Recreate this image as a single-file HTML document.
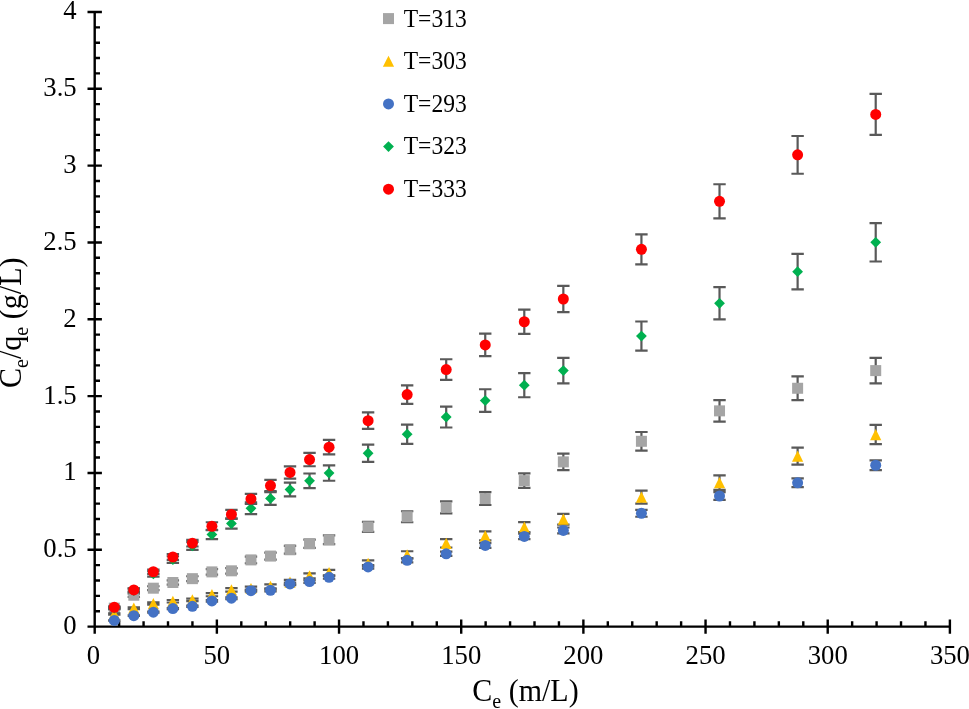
<!DOCTYPE html>
<html lang="en"><head><meta charset="utf-8"><title>Ce/qe vs Ce</title>
<style>
html,body{margin:0;padding:0;background:#fff;}
body{width:969px;height:709px;overflow:hidden;}
svg{display:block;font-family:"Liberation Serif","Times New Roman",serif;}
</style></head><body>
<svg width="969" height="709" viewBox="0 0 969 709">
<rect width="969" height="709" fill="#fff"/>
<path d="M94.7 10.76V633.8M87.5 626.6H951.09M87.5 626.6H101.9M94.7 611.23H100M94.7 595.87H100M94.7 580.5H100M94.7 565.14H100M87.5 549.77H101.9M94.7 534.4H100M94.7 519.04H100M94.7 503.67H100M94.7 488.31H100M87.5 472.94H101.9M94.7 457.57H100M94.7 442.21H100M94.7 426.84H100M94.7 411.48H100M87.5 396.11H101.9M94.7 380.74H100M94.7 365.38H100M94.7 350.01H100M94.7 334.65H100M87.5 319.28H101.9M94.7 303.91H100M94.7 288.55H100M94.7 273.18H100M94.7 257.82H100M87.5 242.45H101.9M94.7 227.08H100M94.7 211.72H100M94.7 196.35H100M94.7 180.99H100M87.5 165.62H101.9M94.7 150.25H100M94.7 134.89H100M94.7 119.52H100M94.7 104.16H100M87.5 88.79H101.9M94.7 73.42H100M94.7 58.06H100M94.7 42.69H100M94.7 27.33H100M87.5 11.96H101.9M94.7 619.4V633.8M119.13 621.3V626.6M143.57 621.3V626.6M168 621.3V626.6M192.44 621.3V626.6M216.87 619.4V633.8M241.3 621.3V626.6M265.74 621.3V626.6M290.17 621.3V626.6M314.61 621.3V626.6M339.04 619.4V633.8M363.47 621.3V626.6M387.91 621.3V626.6M412.34 621.3V626.6M436.78 621.3V626.6M461.21 619.4V633.8M485.64 621.3V626.6M510.08 621.3V626.6M534.51 621.3V626.6M558.95 621.3V626.6M583.38 619.4V633.8M607.81 621.3V626.6M632.25 621.3V626.6M656.68 621.3V626.6M681.12 621.3V626.6M705.55 619.4V633.8M729.98 621.3V626.6M754.42 621.3V626.6M778.85 621.3V626.6M803.29 621.3V626.6M827.72 619.4V633.8M852.15 621.3V626.6M876.59 621.3V626.6M901.02 621.3V626.6M925.46 621.3V626.6M949.89 619.4V633.8" stroke="#000" stroke-width="2.4" fill="none"/>
<g class="s"><path d="M114.3 607.24V609.08M108.1 607.24H120.5M108.1 609.08H120.5M133.83 593.69V596.82M127.63 593.69H140.03M127.63 596.82H140.03M153.35 586.26V590.11M147.15 586.26H159.55M147.15 590.11H159.55M172.87 580.29V584.7M166.67 580.29H179.07M166.67 584.7H179.07M192.4 576.26V581.06M186.2 576.26H198.6M186.2 581.06H198.6M211.92 569.16V574.63M205.72 569.16H218.12M205.72 574.63H218.12M231.44 568.03V573.61M225.24 568.03H237.64M225.24 573.61H237.64M250.97 556.58V563.25M244.77 556.58H257.17M244.77 563.25H257.17M270.49 552.54V559.6M264.29 552.54H276.69M264.29 559.6H276.69M290.01 545.93V553.61M283.81 545.93H296.21M283.81 553.61H296.21M309.54 539.64V547.92M303.34 539.64H315.74M303.34 547.92H315.74M329.06 535.44V544.12M322.86 535.44H335.26M322.86 544.12H335.26M368.1 521.89V531.86M361.9 521.89H374.3M361.9 531.86H374.3M407.15 511.24V522.23M400.95 511.24H413.35M400.95 522.23H413.35M446.2 501.4V513.32M440 501.4H452.4M440 513.32H452.4M485.24 492.2V505M479.04 492.2H491.44M479.04 505H491.44M524.29 473.32V487.92M518.09 473.32H530.49M518.09 487.92H530.49M563.34 453.64V470.11M557.14 453.64H569.54M557.14 470.11H569.54M641.43 432.02V450.55M635.23 432.02H647.63M635.23 450.55H647.63M719.52 400.07V421.65M713.32 400.07H725.72M713.32 421.65H725.72M797.62 376.36V400.19M791.42 376.36H803.82M791.42 400.19H803.82M875.71 357.8V383.4M869.51 357.8H881.91M869.51 383.4H881.91" stroke="#595959" stroke-width="2.2" fill="none"/><rect x="108.8" y="602.66" width="11" height="11" fill="#A5A5A5"/><rect x="128.33" y="589.75" width="11" height="11" fill="#A5A5A5"/><rect x="147.85" y="582.69" width="11" height="11" fill="#A5A5A5"/><rect x="167.37" y="577" width="11" height="11" fill="#A5A5A5"/><rect x="186.9" y="573.16" width="11" height="11" fill="#A5A5A5"/><rect x="206.42" y="566.4" width="11" height="11" fill="#A5A5A5"/><rect x="225.94" y="565.32" width="11" height="11" fill="#A5A5A5"/><rect x="245.47" y="554.41" width="11" height="11" fill="#A5A5A5"/><rect x="264.99" y="550.57" width="11" height="11" fill="#A5A5A5"/><rect x="284.51" y="544.27" width="11" height="11" fill="#A5A5A5"/><rect x="304.04" y="538.28" width="11" height="11" fill="#A5A5A5"/><rect x="323.56" y="534.28" width="11" height="11" fill="#A5A5A5"/><rect x="362.6" y="521.37" width="11" height="11" fill="#A5A5A5"/><rect x="401.65" y="511.23" width="11" height="11" fill="#A5A5A5"/><rect x="440.7" y="501.86" width="11" height="11" fill="#A5A5A5"/><rect x="479.74" y="493.1" width="11" height="11" fill="#A5A5A5"/><rect x="518.79" y="475.12" width="11" height="11" fill="#A5A5A5"/><rect x="557.84" y="456.38" width="11" height="11" fill="#A5A5A5"/><rect x="635.93" y="435.79" width="11" height="11" fill="#A5A5A5"/><rect x="714.02" y="405.36" width="11" height="11" fill="#A5A5A5"/><rect x="792.12" y="382.77" width="11" height="11" fill="#A5A5A5"/><rect x="870.21" y="365.1" width="11" height="11" fill="#A5A5A5"/></g>
<g class="s"><path d="M114.3 613.37V614.63M108.1 613.37H120.5M108.1 614.63H120.5M133.83 607.24V609.08M127.63 607.24H140.03M127.63 609.08H140.03M153.35 602.4V604.7M147.15 602.4H159.55M147.15 604.7H159.55M172.87 599.98V602.51M166.67 599.98H179.07M166.67 602.51H179.07M192.4 598.53V601.2M186.2 598.53H198.6M186.2 601.2H198.6M211.92 593.04V596.24M205.72 593.04H218.12M205.72 596.24H218.12M231.44 588.04V591.71M225.24 588.04H237.64M225.24 591.71H237.64M250.97 586.59V590.4M244.77 586.59H257.17M244.77 590.4H257.17M270.49 584.33V588.35M264.29 584.33H276.69M264.29 588.35H276.69M290.01 579.97V584.41M283.81 579.97H296.21M283.81 584.41H296.21M309.54 573.36V578.43M303.34 573.36H315.74M303.34 578.43H315.74M329.06 569.97V575.36M322.86 569.97H335.26M322.86 575.36H335.26M368.1 560.29V566.6M361.9 560.29H374.3M361.9 566.6H374.3M407.15 551.25V558.43M400.95 551.25H413.35M400.95 558.43H413.35M446.2 539.15V547.48M440 539.15H452.4M440 547.48H452.4M485.24 531.41V540.47M479.04 531.41H491.44M479.04 540.47H491.44M524.29 522.05V532.01M518.09 522.05H530.49M518.09 532.01H530.49M563.34 513.82V524.56M557.14 513.82H569.54M557.14 524.56H569.54M641.43 490.59V503.54M635.23 490.59H647.63M635.23 503.54H647.63M719.52 475.42V489.82M713.32 475.42H725.72M713.32 489.82H725.72M797.62 447.67V464.71M791.42 447.67H803.82M791.42 464.71H803.82M875.71 424.92V444.13M869.51 424.92H881.91M869.51 444.13H881.91" stroke="#595959" stroke-width="2.2" fill="none"/><polygon points="114.3,608.4 119.9,619.6 108.7,619.6" fill="#FFC000"/><polygon points="133.83,602.56 139.43,613.76 128.23,613.76" fill="#FFC000"/><polygon points="153.35,597.95 158.95,609.15 147.75,609.15" fill="#FFC000"/><polygon points="172.87,595.65 178.47,606.85 167.27,606.85" fill="#FFC000"/><polygon points="192.4,594.26 198,605.46 186.8,605.46" fill="#FFC000"/><polygon points="211.92,589.04 217.52,600.24 206.32,600.24" fill="#FFC000"/><polygon points="231.44,584.28 237.04,595.48 225.84,595.48" fill="#FFC000"/><polygon points="250.97,582.89 256.57,594.09 245.37,594.09" fill="#FFC000"/><polygon points="270.49,580.74 276.09,591.94 264.89,591.94" fill="#FFC000"/><polygon points="290.01,576.59 295.61,587.79 284.41,587.79" fill="#FFC000"/><polygon points="309.54,570.29 315.14,581.49 303.94,581.49" fill="#FFC000"/><polygon points="329.06,567.07 334.66,578.27 323.46,578.27" fill="#FFC000"/><polygon points="368.1,557.85 373.7,569.05 362.5,569.05" fill="#FFC000"/><polygon points="407.15,549.24 412.75,560.44 401.55,560.44" fill="#FFC000"/><polygon points="446.2,537.72 451.8,548.92 440.6,548.92" fill="#FFC000"/><polygon points="485.24,530.34 490.84,541.54 479.64,541.54" fill="#FFC000"/><polygon points="524.29,521.43 529.89,532.63 518.69,532.63" fill="#FFC000"/><polygon points="563.34,513.59 568.94,524.79 557.74,524.79" fill="#FFC000"/><polygon points="641.43,491.46 647.03,502.66 635.83,502.66" fill="#FFC000"/><polygon points="719.52,477.02 725.12,488.22 713.92,488.22" fill="#FFC000"/><polygon points="797.62,450.59 803.22,461.79 792.02,461.79" fill="#FFC000"/><polygon points="875.71,428.93 881.31,440.13 870.11,440.13" fill="#FFC000"/></g>
<g class="s"><path d="M114.3 620.27V620.64M108.1 620.27H120.5M108.1 620.64H120.5M133.83 615.36V616.02M127.63 615.36H140.03M127.63 616.02H140.03M153.35 611.72V612.59M147.15 611.72H159.55M147.15 612.59H159.55M172.87 608.08V609.16M166.67 608.08H179.07M166.67 609.16H179.07M192.4 605.71V606.93M186.2 605.71H198.6M186.2 606.93H198.6M211.92 600.17V601.71M205.72 600.17H218.12M205.72 601.71H218.12M231.44 597.32V599.03M225.24 597.32H237.64M225.24 599.03H237.64M250.97 589.56V591.72M244.77 589.56H257.17M244.77 591.72H257.17M270.49 589.25V591.42M264.29 589.25H276.69M264.29 591.42H276.69M290.01 582.6V585.16M283.81 582.6H296.21M283.81 585.16H296.21M309.54 580.23V582.93M303.34 580.23H315.74M303.34 582.93H315.74M329.06 575.8V578.75M322.86 575.8H335.26M322.86 578.75H335.26M368.1 565.19V568.77M361.9 565.19H374.3M361.9 568.77H374.3M407.15 558.39V562.36M400.95 558.39H413.35M400.95 562.36H413.35M446.2 551.58V555.95M440 551.58H452.4M440 555.95H452.4M485.24 543.03V547.9M479.04 543.03H491.44M479.04 547.9H491.44M524.29 533.7V539.11M518.09 533.7H530.49M518.09 539.11H530.49M563.34 527.52V533.29M557.14 527.52H569.54M557.14 533.29H569.54M641.43 509.96V516.75M635.23 509.96H647.63M635.23 516.75H647.63M719.52 492.07V499.91M713.32 492.07H725.72M713.32 499.91H725.72M797.62 478.46V487.09M791.42 478.46H803.82M791.42 487.09H803.82M875.71 460.42V470.1M869.51 460.42H881.91M869.51 470.1H881.91" stroke="#595959" stroke-width="2.2" fill="none"/><circle cx="114.3" cy="620.45" r="5.5" fill="#4472C4"/><circle cx="133.83" cy="615.69" r="5.5" fill="#4472C4"/><circle cx="153.35" cy="612.16" r="5.5" fill="#4472C4"/><circle cx="172.87" cy="608.62" r="5.5" fill="#4472C4"/><circle cx="192.4" cy="606.32" r="5.5" fill="#4472C4"/><circle cx="211.92" cy="600.94" r="5.5" fill="#4472C4"/><circle cx="231.44" cy="598.17" r="5.5" fill="#4472C4"/><circle cx="250.97" cy="590.64" r="5.5" fill="#4472C4"/><circle cx="270.49" cy="590.34" r="5.5" fill="#4472C4"/><circle cx="290.01" cy="583.88" r="5.5" fill="#4472C4"/><circle cx="309.54" cy="581.58" r="5.5" fill="#4472C4"/><circle cx="329.06" cy="577.28" r="5.5" fill="#4472C4"/><circle cx="368.1" cy="566.98" r="5.5" fill="#4472C4"/><circle cx="407.15" cy="560.37" r="5.5" fill="#4472C4"/><circle cx="446.2" cy="553.77" r="5.5" fill="#4472C4"/><circle cx="485.24" cy="545.47" r="5.5" fill="#4472C4"/><circle cx="524.29" cy="536.4" r="5.5" fill="#4472C4"/><circle cx="563.34" cy="530.41" r="5.5" fill="#4472C4"/><circle cx="641.43" cy="513.35" r="5.5" fill="#4472C4"/><circle cx="719.52" cy="495.99" r="5.5" fill="#4472C4"/><circle cx="797.62" cy="482.77" r="5.5" fill="#4472C4"/><circle cx="875.71" cy="465.26" r="5.5" fill="#4472C4"/></g>
<g class="s"><path d="M114.3 607.24V609.08M108.1 607.24H120.5M108.1 609.08H120.5M133.83 588.68V592.3M127.63 588.68H140.03M127.63 592.3H140.03M153.35 571.26V576.53M147.15 571.26H159.55M147.15 576.53H159.55M172.87 556.25V562.95M166.67 556.25H179.07M166.67 562.95H179.07M192.4 541.89V549.96M186.2 541.89H198.6M186.2 549.96H198.6M211.92 529.96V539.16M205.72 529.96H218.12M205.72 539.16H218.12M231.44 518.34V528.65M225.24 518.34H237.64M225.24 528.65H237.64M250.97 502.37V514.2M244.77 502.37H257.17M244.77 514.2H257.17M270.49 492.04V504.86M264.29 492.04H276.69M264.29 504.86H276.69M290.01 482.68V496.39M283.81 482.68H296.21M283.81 496.39H296.21M309.54 473.49V488.07M303.34 473.49H315.74M303.34 488.07H315.74M329.06 465.42V480.77M322.86 465.42H335.26M322.86 480.77H335.26M368.1 444.61V461.94M361.9 444.61H374.3M361.9 461.94H374.3M407.15 424.6V443.84M400.95 424.6H413.35M400.95 443.84H413.35M446.2 406.53V427.49M440 406.53H452.4M440 427.49H452.4M485.24 389.26V411.87M479.04 389.26H491.44M479.04 411.87H491.44M524.29 373.13V397.27M518.09 373.13H530.49M518.09 397.27H530.49M563.34 357.8V383.4M557.14 357.8H569.54M557.14 383.4H569.54M641.43 321.5V350.56M635.23 321.5H647.63M635.23 350.56H647.63M719.52 287.13V319.46M713.32 287.13H725.72M713.32 319.46H725.72M797.62 253.9V289.39M791.42 253.9H803.82M791.42 289.39H803.82M875.71 223.08V261.51M869.51 223.08H881.91M869.51 261.51H881.91" stroke="#595959" stroke-width="2.2" fill="none"/><polygon points="114.3,602.76 119.7,608.16 114.3,613.56 108.9,608.16" fill="#00B050"/><polygon points="133.83,585.09 139.23,590.49 133.83,595.89 128.43,590.49" fill="#00B050"/><polygon points="153.35,568.49 158.75,573.89 153.35,579.29 147.95,573.89" fill="#00B050"/><polygon points="172.87,554.2 178.27,559.6 172.87,565 167.47,559.6" fill="#00B050"/><polygon points="192.4,540.53 197.8,545.93 192.4,551.33 187,545.93" fill="#00B050"/><polygon points="211.92,529.16 217.32,534.56 211.92,539.96 206.52,534.56" fill="#00B050"/><polygon points="231.44,518.09 236.84,523.49 231.44,528.89 226.04,523.49" fill="#00B050"/><polygon points="250.97,502.88 256.37,508.28 250.97,513.68 245.57,508.28" fill="#00B050"/><polygon points="270.49,493.05 275.89,498.45 270.49,503.85 265.09,498.45" fill="#00B050"/><polygon points="290.01,484.14 295.41,489.54 290.01,494.94 284.61,489.54" fill="#00B050"/><polygon points="309.54,475.38 314.94,480.78 309.54,486.18 304.14,480.78" fill="#00B050"/><polygon points="329.06,467.69 334.46,473.09 329.06,478.49 323.66,473.09" fill="#00B050"/><polygon points="368.1,447.87 373.5,453.27 368.1,458.67 362.7,453.27" fill="#00B050"/><polygon points="407.15,428.82 412.55,434.22 407.15,439.62 401.75,434.22" fill="#00B050"/><polygon points="446.2,411.61 451.6,417.01 446.2,422.41 440.8,417.01" fill="#00B050"/><polygon points="485.24,395.17 490.64,400.57 485.24,405.97 479.84,400.57" fill="#00B050"/><polygon points="524.29,379.8 529.69,385.2 524.29,390.6 518.89,385.2" fill="#00B050"/><polygon points="563.34,365.2 568.74,370.6 563.34,376 557.94,370.6" fill="#00B050"/><polygon points="641.43,330.63 646.83,336.03 641.43,341.43 636.03,336.03" fill="#00B050"/><polygon points="719.52,297.9 724.92,303.3 719.52,308.7 714.12,303.3" fill="#00B050"/><polygon points="797.62,266.25 803.02,271.65 797.62,277.05 792.22,271.65" fill="#00B050"/><polygon points="875.71,236.9 881.11,242.3 875.71,247.7 870.31,242.3" fill="#00B050"/></g>
<g class="s"><path d="M114.3 606.46V608.01M108.1 606.46H120.5M108.1 608.01H120.5M133.83 588.41V591.34M127.63 588.41H140.03M127.63 591.34H140.03M153.35 569.55V573.94M147.15 569.55H159.55M147.15 573.94H159.55M172.87 554.21V559.78M166.67 554.21H179.07M166.67 559.78H179.07M192.4 539.83V546.5M186.2 539.83H198.6M186.2 546.5H198.6M211.92 522.25V530.27M205.72 522.25H218.12M205.72 530.27H218.12M231.44 509.94V518.92M225.24 509.94H237.64M225.24 518.92H237.64M250.97 493.8V504.02M244.77 493.8H257.17M244.77 504.02H257.17M270.49 479.9V491.18M264.29 479.9H276.69M264.29 491.18H276.69M290.01 466.31V478.64M283.81 466.31H296.21M283.81 478.64H296.21M309.54 452.89V466.25M303.34 452.89H315.74M303.34 466.25H315.74M329.06 439.95V454.3M322.86 439.95H335.26M322.86 454.3H335.26M368.1 412.46V428.93M361.9 412.46H374.3M361.9 428.93H374.3M407.15 385.29V403.85M400.95 385.29H413.35M400.95 403.85H413.35M446.2 359.24V379.81M440 359.24H452.4M440 379.81H452.4M485.24 333.67V356.21M479.04 333.67H491.44M479.04 356.21H491.44M524.29 309.54V333.93M518.09 309.54H530.49M518.09 333.93H530.49M563.34 285.89V312.1M557.14 285.89H569.54M557.14 312.1H569.54M641.43 234.28V264.45M635.23 234.28H647.63M635.23 264.45H647.63M719.52 184.26V218.28M713.32 184.26H725.72M713.32 218.28H725.72M797.62 135.99V173.73M791.42 135.99H803.82M791.42 173.73H803.82M875.71 93.97V134.94M869.51 93.97H881.91M869.51 134.94H881.91" stroke="#595959" stroke-width="2.2" fill="none"/><circle cx="114.3" cy="607.24" r="5.5" fill="#FF0000"/><circle cx="133.83" cy="589.88" r="5.5" fill="#FF0000"/><circle cx="153.35" cy="571.74" r="5.5" fill="#FF0000"/><circle cx="172.87" cy="556.99" r="5.5" fill="#FF0000"/><circle cx="192.4" cy="543.16" r="5.5" fill="#FF0000"/><circle cx="211.92" cy="526.26" r="5.5" fill="#FF0000"/><circle cx="231.44" cy="514.43" r="5.5" fill="#FF0000"/><circle cx="250.97" cy="498.91" r="5.5" fill="#FF0000"/><circle cx="270.49" cy="485.54" r="5.5" fill="#FF0000"/><circle cx="290.01" cy="472.48" r="5.5" fill="#FF0000"/><circle cx="309.54" cy="459.57" r="5.5" fill="#FF0000"/><circle cx="329.06" cy="447.13" r="5.5" fill="#FF0000"/><circle cx="368.1" cy="420.7" r="5.5" fill="#FF0000"/><circle cx="407.15" cy="394.57" r="5.5" fill="#FF0000"/><circle cx="446.2" cy="369.53" r="5.5" fill="#FF0000"/><circle cx="485.24" cy="344.94" r="5.5" fill="#FF0000"/><circle cx="524.29" cy="321.74" r="5.5" fill="#FF0000"/><circle cx="563.34" cy="299" r="5.5" fill="#FF0000"/><circle cx="641.43" cy="249.36" r="5.5" fill="#FF0000"/><circle cx="719.52" cy="201.27" r="5.5" fill="#FF0000"/><circle cx="797.62" cy="154.86" r="5.5" fill="#FF0000"/><circle cx="875.71" cy="114.45" r="5.5" fill="#FF0000"/></g>
<g font-size="26.7" fill="#000">
<text transform="translate(76.7 634) scale(1 1.03)" text-anchor="end">0</text>
<text transform="translate(76.7 557.17) scale(1 1.03)" text-anchor="end">0.5</text>
<text transform="translate(76.7 480.34) scale(1 1.03)" text-anchor="end">1</text>
<text transform="translate(76.7 403.51) scale(1 1.03)" text-anchor="end">1.5</text>
<text transform="translate(76.7 326.68) scale(1 1.03)" text-anchor="end">2</text>
<text transform="translate(76.7 249.85) scale(1 1.03)" text-anchor="end">2.5</text>
<text transform="translate(76.7 173.02) scale(1 1.03)" text-anchor="end">3</text>
<text transform="translate(76.7 96.19) scale(1 1.03)" text-anchor="end">3.5</text>
<text transform="translate(76.7 19.36) scale(1 1.03)" text-anchor="end">4</text>
<text transform="translate(93.4 664) scale(1 1.03)" text-anchor="middle">0</text>
<text transform="translate(216.87 664) scale(1 1.03)" text-anchor="middle">50</text>
<text transform="translate(339.04 664) scale(1 1.03)" text-anchor="middle">100</text>
<text transform="translate(461.21 664) scale(1 1.03)" text-anchor="middle">150</text>
<text transform="translate(583.38 664) scale(1 1.03)" text-anchor="middle">200</text>
<text transform="translate(705.55 664) scale(1 1.03)" text-anchor="middle">250</text>
<text transform="translate(827.72 664) scale(1 1.03)" text-anchor="middle">300</text>
<text transform="translate(949.89 664) scale(1 1.03)" text-anchor="middle">350</text>
</g>
<g font-size="24" fill="#000">
<rect x="383" y="13.1" width="11" height="11" fill="#A5A5A5"/>
<text transform="translate(403.7 26.6) scale(0.982 1.06)">T=313</text>
<polygon points="388.5,55.65 394.1,66.85 382.9,66.85" fill="#FFC000"/>
<text transform="translate(403.7 69.22) scale(0.982 1.06)">T=303</text>
<circle cx="388.5" cy="103.9" r="5.5" fill="#4472C4"/>
<text transform="translate(403.7 111.84) scale(0.982 1.06)">T=293</text>
<polygon points="388.5,141.15 393.9,146.55 388.5,151.95 383.1,146.55" fill="#00B050"/>
<text transform="translate(403.7 154.46) scale(0.982 1.06)">T=323</text>
<circle cx="388.5" cy="189.2" r="5.5" fill="#FF0000"/>
<text transform="translate(403.7 197.08) scale(0.982 1.06)">T=333</text>
</g>
<text transform="translate(472.3 700.8) scale(1 1.07)" font-size="30" fill="#000">C<tspan font-size="20" dy="6.4">e</tspan><tspan dy="-6.4"> (m/L)</tspan></text>
<text transform="translate(21.3 388.1) rotate(-90) scale(1.024 1.06)" font-size="29.4" fill="#000">C<tspan font-size="19.6" dy="6.2">e</tspan><tspan dy="-6.2">/q</tspan><tspan font-size="19.6" dy="6.2">e</tspan><tspan dy="-6.2"> (g/L)</tspan></text>
</svg>
</body></html>
